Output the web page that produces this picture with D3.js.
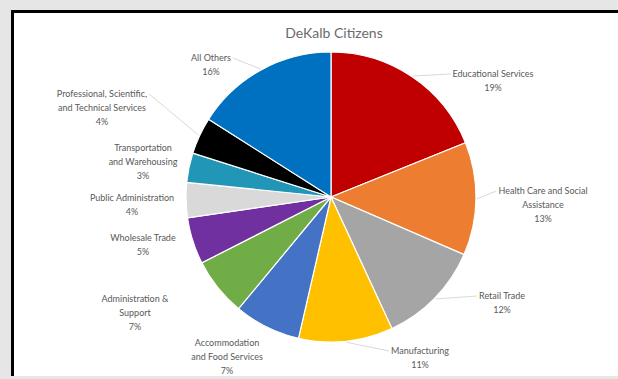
<!DOCTYPE html>
<html>
<head>
<meta charset="utf-8">
<script src="https://cdn.jsdelivr.net/npm/d3@7"></script>
<style>
  body { margin: 0; background: #e6e6e6; }
  svg { display: block; }
</style>
</head>
<body>
<div id="chart"></div>
<script>
"use strict";

// chart data (percent of citizens by industry)
const categories = [
  "Educational Services",
  "Health Care and Social Assistance",
  "Retail Trade",
  "Manufacturing",
  "Accommodation and Food Services",
  "Administration & Support",
  "Wholesale Trade",
  "Public Administration",
  "Transportation and Warehousing",
  "Professional, Scientific, and Technical Services",
  "All Others"
];
const values = [18.9, 12.6, 11.6, 10.5, 7.4, 6.5, 5.2, 3.9, 3.3, 4.1, 16.0];

// how each label is broken into lines
const labelLines = [
  ["Educational Services"],
  ["Health Care and Social", "Assistance"],
  ["Retail Trade"],
  ["Manufacturing"],
  ["Accommodation", "and Food Services"],
  ["Administration &", "Support"],
  ["Wholesale Trade"],
  ["Public Administration"],
  ["Transportation", "and Warehousing"],
  ["Professional, Scientific,", "and Technical Services"],
  ["All Others"]
];

const colors = ["#c00000", "#ed7d31", "#a5a5a5", "#ffc000", "#4472c4", "#70ad47",
                "#7030a0", "#d9d9d9", "#2196b6", "#000000", "#0070c0"];

// layout: label centres (first line) and whether a leader line is shown
const labelPos = [
  [493, 74, true], [543, 191, true], [502, 296, true], [420, 351, true],
  [227, 343, false], [135, 299, false], [143, 238, false], [132, 198, false],
  [143, 148, false], [102, 94, true], [211, 58, true]
];

const width = 618, height = 379;
const cx = 331, cy = 197, radius = 145;

const svg = d3.select("#chart").append("svg")
    .attr("width", width)
    .attr("height", height);

// frame
svg.append("rect")
    .attr("x", 0).attr("y", 0)
    .attr("width", width).attr("height", height)
    .attr("fill", "#e6e6e6");
svg.append("rect")
    .attr("x", 14).attr("y", 13)
    .attr("width", width - 14).attr("height", 363)
    .attr("fill", "#ffffff");
svg.append("path")
    .attr("d", "M12.5,376V11.5H" + width)
    .attr("fill", "none")
    .attr("stroke", "#000")
    .attr("stroke-width", 3);

// title
svg.append("text")
    .attr("x", 334).attr("y", 38)
    .attr("text-anchor", "middle")
    .attr("font-family", "Lato, 'Open Sans', sans-serif")
    .attr("font-size", 14)
    .attr("fill", "#6b6b6b")
    .text("DeKalb Citizens");

const pie = d3.pie().sort(null).value(d => d)(values);
const arc = d3.arc().innerRadius(0).outerRadius(radius);

const g = svg.append("g").attr("transform", "translate(" + cx + "," + cy + ")");

g.selectAll("path.slice")
    .data(pie)
    .enter()
    .append("path")
    .attr("class", "slice")
    .attr("d", arc)
    .attr("fill", (d, i) => colors[i])
    .attr("stroke", "#ffffff")
    .attr("stroke-width", 1.2);

// labels
const lineH = 14;
const labels = svg.append("g")
    .attr("font-family", "Lato, 'Open Sans', sans-serif")
    .attr("font-size", 9)
    .attr("fill", "#595959")
    .attr("text-anchor", "middle");

pie.forEach(function (d, i) {
    const [lx, ly, leader] = labelPos[i];
    const lines = labelLines[i].concat([Math.round(values[i]) + "%"]);
    const t = labels.append("text");
    lines.forEach(function (s, k) {
        t.append("tspan")
            .attr("x", lx)
            .attr("y", ly + 3 + k * lineH)
            .text(s);
    });

    if (leader) {
        const box = t.node().getBBox();
        const mid = (d.startAngle + d.endAngle) / 2;
        const px = cx + Math.sin(mid) * (radius + 1);
        const py = cy - Math.cos(mid) * (radius + 1);
        const ex = px > lx ? box.x + box.width + 2 : box.x - 2;
        const ey = ly;
        svg.append("line")
            .attr("x1", px).attr("y1", py)
            .attr("x2", ex).attr("y2", ey)
            .attr("stroke", "#cfcfcf")
            .attr("stroke-width", 0.8);
    }
});
</script>
</body>
</html>
